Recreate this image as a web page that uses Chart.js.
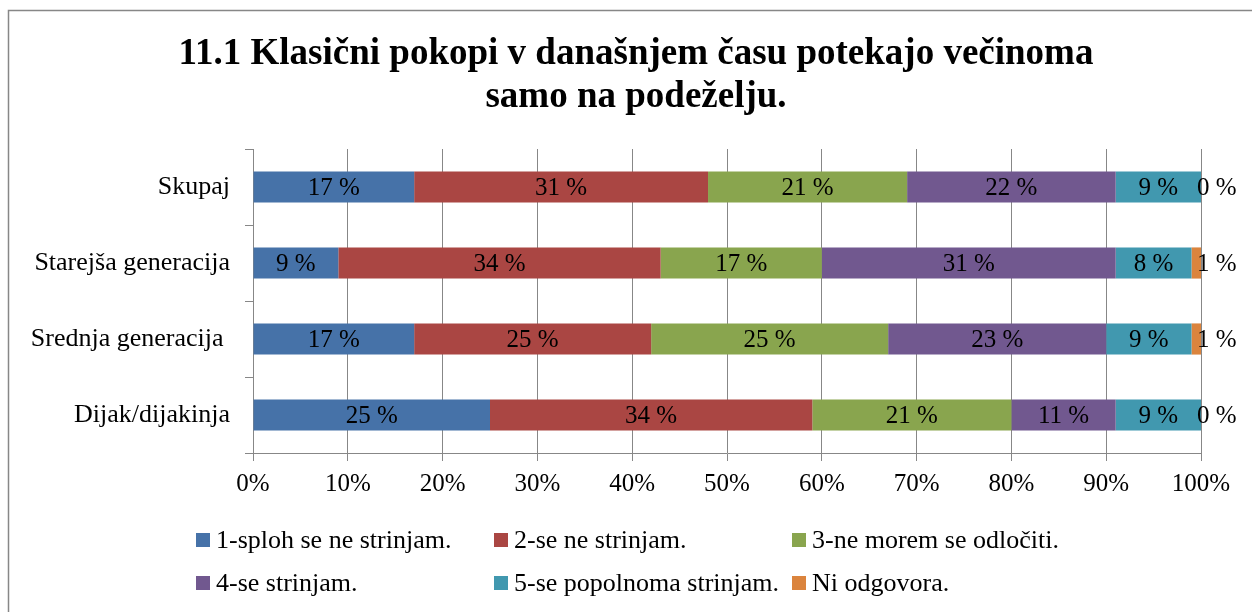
<!DOCTYPE html>
<html>
<head>
<meta charset="utf-8">
<script src="https://cdn.jsdelivr.net/npm/chart.js@4.4.1/dist/chart.umd.min.js"></script>
<style>
	html, body { margin: 0; padding: 0; background: #fff; }
	#wrap { position: relative; width: 1252px; height: 612px; overflow: hidden; }
	#legend .lg { position: absolute; display: flex; align-items: center; height: 26px;
		font: 26px "Liberation Serif", "Times New Roman", serif; color: #000; white-space: nowrap; }
	#legend .lg i { display: inline-block; width: 14px; height: 14px; margin-right: 6px; }
</style>
</head>
<body>
<div id="wrap">
	<canvas id="chart" width="1252" height="612"></canvas>
	<div id="legend"></div>
</div>
<script type="text/javascript">
	// podatki
	var titleLines = ['11.1 Klasični pokopi v današnjem času potekajo večinoma', 'samo na podeželju.'];
	var categories = ['Skupaj', 'Starejša generacija', 'Srednja generacija ', 'Dijak/dijakinja'];
	var seriesNames = ['1-sploh se ne strinjam.', '2-se ne strinjam.', '3-ne morem se odločiti.',
		'4-se strinjam.', '5-se popolnoma strinjam.', 'Ni odgovora.'];
	var ans1 = [17, 9, 17, 25];
	var ans2 = [31, 34, 25, 34];
	var ans3 = [21, 17, 25, 21];
	var ans4 = [22, 31, 23, 11];
	var ans5 = [9, 8, 9, 9];
	var noAns = [0, 1, 1, 0];
	var xTickLabels = ['0%', '10%', '20%', '30%', '40%', '50%', '60%', '70%', '80%', '90%', '100%'];
	var colors = ['#4672a8', '#aa4643', '#89a54e', '#71588f', '#4198af', '#db843d'];

	var serif = '"Liberation Serif", "Times New Roman", serif';
	var gray = '#878787';
	Chart.defaults.font.family = serif;
	Chart.defaults.font.size = 25;
	Chart.defaults.color = '#000';

	// okvir in naslov
	var frame = {
		id: 'frame',
		beforeDraw: function(chart) {
			var ctx = chart.ctx;
			ctx.save();
			ctx.fillStyle = '#fff';
			ctx.fillRect(0, 0, chart.width, chart.height);
			ctx.strokeStyle = gray;
			ctx.lineWidth = 1.5;
			ctx.strokeRect(8.5, 10.5, 1400, 800);
			ctx.fillStyle = '#000';
			ctx.font = 'bold 37px ' + serif;
			ctx.textAlign = 'center';
			ctx.textBaseline = 'alphabetic';
			titleLines.forEach(function(t, i) {
				ctx.fillText(t, 636, 64 + i * 43);
			});
			ctx.restore();
		}
	};

	// oznake vrednosti
	var valueLabels = {
		id: 'valueLabels',
		afterDatasetsDraw: function(chart) {
			var ctx = chart.ctx;
			ctx.save();
			ctx.font = '25px ' + serif;
			ctx.fillStyle = '#000';
			ctx.textBaseline = 'middle';
			chart.data.datasets.forEach(function(ds, i) {
				chart.getDatasetMeta(i).data.forEach(function(bar, j) {
					var v = ds.data[j];
					var txt = v + ' %';
					if (v >= 3) {
						ctx.textAlign = 'center';
						ctx.fillText(txt, (bar.x + bar.base) / 2, bar.y + 1);
					} else {
						ctx.textAlign = 'left';
						ctx.fillText(txt, bar.x - 4, bar.y + 1);
					}
				});
			});
			ctx.restore();
		}
	};

	var seriesData = [ans1, ans2, ans3, ans4, ans5, noAns];
	var datasets = seriesData.map(function(d, i) {
		return {
			label: seriesNames[i],
			data: d,
			backgroundColor: colors[i],
			borderWidth: 0,
			categoryPercentage: 1,
			barPercentage: 0.41
		};
	});

	var myChart = new Chart(document.getElementById('chart'), {
		type: 'bar',
		data: { labels: categories, datasets: datasets },
		options: {
			indexAxis: 'y',
			responsive: false,
			animation: false,
			layout: { padding: { left: 10, right: 51, top: 149, bottom: 109 } },
			plugins: {
				legend: { display: false },
				tooltip: { enabled: false },
				title: { display: false }
			},
			scales: {
				x: {
					stacked: true,
					min: 0,
					max: 100,
					ticks: {
						stepSize: 10,
						padding: 8,
						maxRotation: 0,
						callback: function(v, i) { return xTickLabels[i]; }
					},
					grid: { color: gray, tickLength: 8, drawTicks: true },
					border: { color: gray },
					afterFit: function(scale) { scale.height = 50; }
				},
				y: {
					stacked: true,
					ticks: { padding: 15, font: { size: 26 } },
					grid: { drawOnChartArea: false, color: gray, tickLength: 8 },
					border: { color: gray },
					afterFit: function(scale) { scale.width = 243; }
				}
			}
		},
		plugins: [frame, valueLabels]
	});

	// legenda
	var legendX = [196, 494, 792];
	var legendY = [527, 570];
	var legend = document.getElementById('legend');
	myChart.data.datasets.forEach(function(ds, i) {
		var item = document.createElement('div');
		item.className = 'lg';
		item.style.left = legendX[i % 3] + 'px';
		item.style.top = legendY[Math.floor(i / 3)] + 'px';
		item.innerHTML = '<i style="background:' + ds.backgroundColor + '"></i>' + ds.label;
		legend.appendChild(item);
	});
</script>
</body>
</html>
